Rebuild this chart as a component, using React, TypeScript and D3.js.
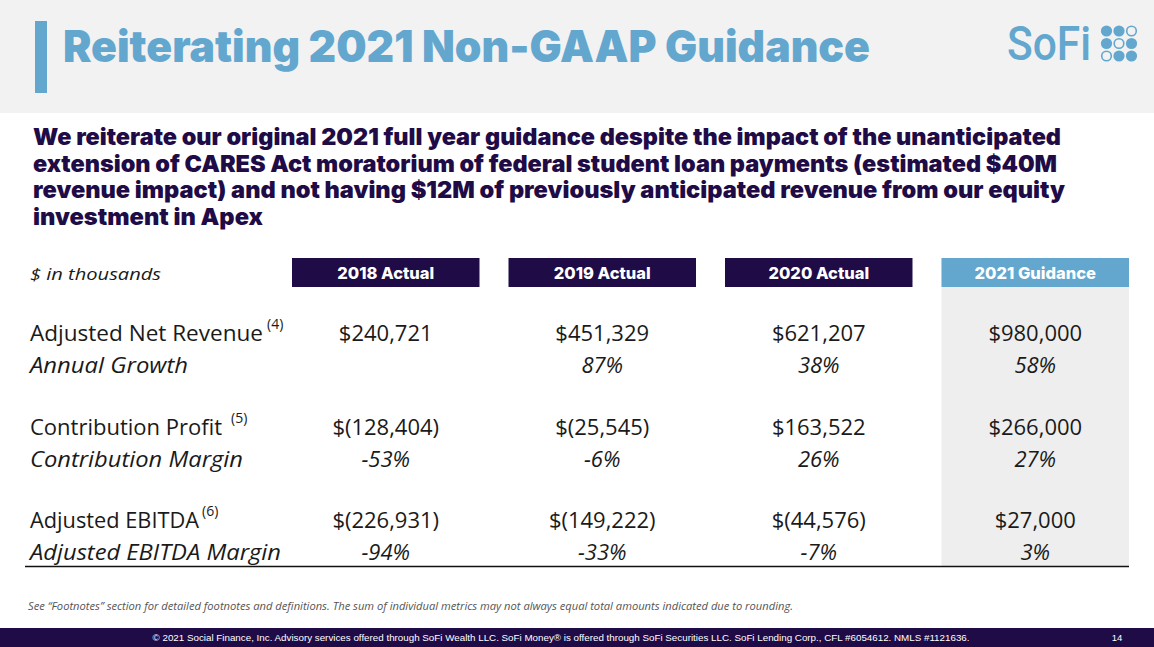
import React from "react";
import * as d3 from "d3";

const title = "Reiterating 2021 Non-GAAP Guidance";
const subtitleLines = [
  "We reiterate our original 2021 full year guidance despite the impact of the unanticipated",
  "extension of CARES Act moratorium of federal student loan payments (estimated $40M",
  "revenue impact) and not having $12M of previously anticipated revenue from our equity",
  "investment in Apex",
];
const columns = ["2018 Actual", "2019 Actual", "2020 Actual", "2021 Guidance"];
const metrics = ["Adjusted Net Revenue", "Contribution Profit", "Adjusted EBITDA"];
const footnoteRefs = ["(4)", "(5)", "(6)"];
const ratioLabels = ["Annual Growth", "Contribution Margin", "Adjusted EBITDA Margin"];
const adjustedNetRevenue = [240721, 451329, 621207, 980000];
const annualGrowth = [null, 87, 38, 58];
const contributionProfit = [-128404, -25545, 163522, 266000];
const contributionMargin = [-53, -6, 26, 27];
const adjustedEbitda = [-226931, -149222, -44576, 27000];
const adjustedEbitdaMargin = [-94, -33, -7, 3];
const unitLabel = "$ in thousands";
const footnote =
  "See “Footnotes” section for detailed footnotes and definitions. The sum of individual metrics may not always equal total amounts indicated due to rounding.";
const footerText =
  "© 2021 Social Finance, Inc. Advisory services offered through SoFi Wealth LLC. SoFi Money® is offered through SoFi Securities LLC. SoFi Lending Corp., CFL #6054612. NMLS #1121636.";
const pageNumber = "14";

const NAVY = "#1f0c47";
const BLUE = "#63a7cf";
const TEXT = "#1a1a1a";

const fmtNum = d3.format(",");
const fmtMoney = (v: number) => (v < 0 ? `$(${fmtNum(-v)})` : `$${fmtNum(v)}`);
const fmtPct = (v: number | null) => (v == null ? "" : `${v < 0 ? "-" : ""}${Math.abs(v)}%`);

const FONT = "'Open Sans', 'Noto Sans', sans-serif";
const HEAVY = "Inter, 'Open Sans', sans-serif";

export default function App() {
  const W = 1154;
  const H = 647;
  const x = d3.scaleBand<string>().domain(columns).range([292, 1129]).paddingInner(0.134).paddingOuter(0);
  const rowY = d3.scalePoint<string>().domain(metrics).range([341, 528]);
  const values = [adjustedNetRevenue, contributionProfit, adjustedEbitda];
  const ratios = [annualGrowth, contributionMargin, adjustedEbitdaMargin];
  const labelWidths = [233, 192, 169];
  const ratioWidths = [158, 213, 251];
  const supX = [267, 231, 202];
  const guidance = columns[3];

  const logoCircles: { cx: number; cy: number; filled: boolean }[] = [];
  for (let r = 0; r < 3; r++)
    for (let c = 0; c < 3; c++)
      logoCircles.push({ cx: 1106.5 + c * 12.5, cy: 31 + r * 12.5, filled: r + c !== 2 });

  return (
    <svg width={W} height={H} style={{ position: "absolute", left: 0, top: 0, display: "block" }}>
      <rect x={0} y={0} width={W} height={H} fill="#ffffff" />
      {/* header band */}
      <rect x={0} y={0} width={W} height={113} fill="#f2f2f2" />
      <rect x={35} y={21} width={12} height={72} fill={BLUE} />
      <text
        x={63}
        y={62}
        fill={BLUE}
        fontFamily={HEAVY}
        fontWeight={900}
        fontSize={44}
        textLength={807}
        lengthAdjust="spacingAndGlyphs"
      >
        {title}
      </text>
      {/* logo */}
      <text
        x={1007}
        y={60}
        fill={BLUE}
        fontFamily="Roboto, 'Open Sans', sans-serif"
        fontWeight={500}
        fontSize={48}
        textLength={84}
        lengthAdjust="spacingAndGlyphs"
      >
        SoFi
      </text>
      {logoCircles.map((c, i) => (
        <circle
          key={i}
          cx={c.cx}
          cy={c.cy}
          r={c.filled ? 5.6 : 4.8}
          fill={c.filled ? BLUE : "none"}
          stroke={BLUE}
          strokeWidth={c.filled ? 0 : 1.6}
        />
      ))}

      {/* subtitle */}
      {subtitleLines.map((line, i) => (
        <text
          key={i}
          x={33}
          y={145 + i * 26.7}
          fill={NAVY}
          fontFamily={HEAVY}
          fontWeight={900}
          fontSize={23}
          textLength={[1028, 1024, 1032, 230][i]}
          lengthAdjust="spacingAndGlyphs"
        >
          {line}
        </text>
      ))}

      {/* guidance column background */}
      <rect x={x(guidance)!} y={258} width={x.bandwidth()} height={308} fill="#eeeeee" />

      {/* header row */}
      <text
        x={30}
        y={280}
        fill={TEXT}
        fontFamily={FONT}
        fontStyle="italic"
        fontSize={17}
        textLength={131}
        lengthAdjust="spacingAndGlyphs"
      >
        {unitLabel}
      </text>
      {columns.map((c, i) => (
        <g key={c}>
          <rect x={x(c)!} y={258} width={x.bandwidth()} height={29} fill={i === 3 ? BLUE : NAVY} />
          <text
            x={x(c)! + x.bandwidth() / 2}
            y={279}
            textAnchor="middle"
            fill="#ffffff"
            fontFamily={HEAVY}
            fontWeight={800}
            fontSize={16.5}
          >
            {c}
          </text>
        </g>
      ))}

      {/* rows */}
      {metrics.map((m, mi) => {
        const y = rowY(m)!;
        return (
          <g key={m}>
            <text
              x={30}
              y={y}
              fill={TEXT}
              fontFamily={FONT}
              fontSize={21}
              textLength={labelWidths[mi]}
              lengthAdjust="spacingAndGlyphs"
            >
              {m}
            </text>
            <text x={supX[mi]} y={y - 12} fill={TEXT} fontFamily={FONT} fontSize={14}>
              {footnoteRefs[mi]}
            </text>
            <text
              x={30}
              y={y + 32}
              fill={TEXT}
              fontFamily={FONT}
              fontStyle="italic"
              fontSize={21}
              textLength={ratioWidths[mi]}
              lengthAdjust="spacingAndGlyphs"
            >
              {ratioLabels[mi]}
            </text>
            {columns.map((c, ci) => (
              <g key={c}>
                <text
                  x={x(c)! + x.bandwidth() / 2}
                  y={y}
                  textAnchor="middle"
                  fill={TEXT}
                  fontFamily={FONT}
                  fontSize={22}
                >
                  {fmtMoney(values[mi][ci] as number)}
                </text>
                <text
                  x={x(c)! + x.bandwidth() / 2}
                  y={y + 32}
                  textAnchor="middle"
                  fill={TEXT}
                  fontFamily={FONT}
                  fontStyle="italic"
                  fontSize={22}
                >
                  {fmtPct(ratios[mi][ci] as number | null)}
                </text>
              </g>
            ))}
          </g>
        );
      })}

      {/* bottom rule */}
      <line x1={25} x2={1129} y1={566.5} y2={566.5} stroke="#111" strokeWidth={1.6} />

      {/* footnote */}
      <text
        x={28}
        y={610}
        fill="#555"
        fontFamily={FONT}
        fontStyle="italic"
        fontSize={10}
        textLength={765}
        lengthAdjust="spacingAndGlyphs"
      >
        {footnote}
      </text>

      {/* footer */}
      <rect x={0} y={628} width={W} height={19} fill={NAVY} />
      <text
        x={561}
        y={641}
        textAnchor="middle"
        fill="#ffffff"
        fontFamily="'Liberation Sans', Arial, sans-serif"
        fontSize={9.5}
        textLength={817}
        lengthAdjust="spacingAndGlyphs"
      >
        {footerText}
      </text>
      <text x={1117} y={641} textAnchor="middle" fill="#ffffff" fontFamily="'Liberation Sans', Arial, sans-serif" fontSize={9.5}>
        {pageNumber}
      </text>
    </svg>
  );
}
